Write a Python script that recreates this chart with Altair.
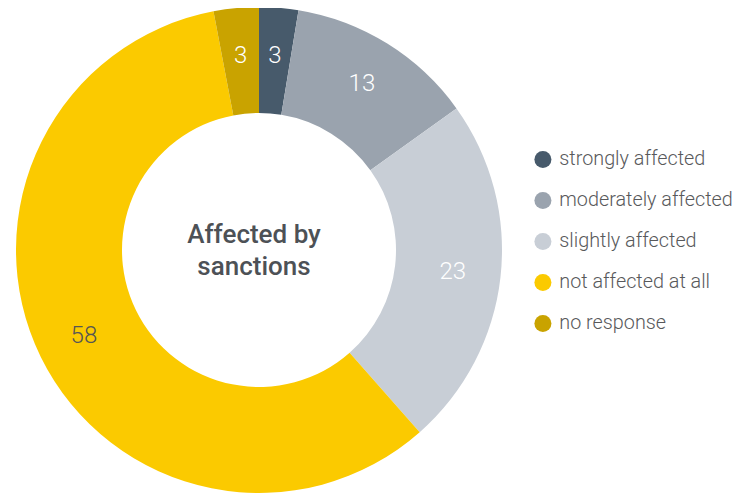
import altair as alt
import pandas as pd

categories = ["strongly affected", "moderately affected", "slightly affected",
              "not affected at all", "no response"]
shares = [2.6, 12.5, 23.4, 58.5, 3.0]      # slice sizes estimated from the angles
labels_txt = ["3", "13", "23", "58", "3"]   # printed (rounded) labels
colors = ["#475a6b", "#9aa3ae", "#c8ced6", "#fbca00", "#c9a300"]
label_colors = ["#ffffff", "#ffffff", "#ffffff", "#555555", "#ffffff"]
center_title = "Affected by\nsanctions"

df = pd.DataFrame({
    "category": categories,
    "share": shares,
    "label": labels_txt,
    "order": list(range(len(categories))),
    "label_color": label_colors,
})

CX, CY = 251, 242

base = alt.Chart(df).encode(
    theta=alt.Theta("share:Q", stack=True),
    order=alt.Order("order:Q"),
)

arc = base.mark_arc(outerRadius=243, innerRadius=137).encode(
    x=alt.value(CX), y=alt.value(CY),
    color=alt.Color(
        "category:N",
        scale=alt.Scale(domain=categories, range=colors),
        sort=categories,
        legend=alt.Legend(
            title=None, orient="none", legendX=525, legendY=141.5,
            symbolType="circle", symbolSize=290, symbolStrokeWidth=0,
            labelFontSize=19.8, labelFont="Roboto", labelFontWeight=300,
            labelColor="#58595b", labelOffset=6.5, rowPadding=20, padding=0,
            labelLimit=300,
        ),
    ),
)

labels = base.mark_text(radius=195, fontSize=24, font="Roboto", fontWeight=300,
                        baseline="middle").encode(
    x=alt.value(CX), y=alt.value(CY),
    text=alt.Text("label:N"),
    color=alt.Color("label_color:N", scale=None),
)

center = alt.Chart(pd.DataFrame({"t": [center_title]})).mark_text(
    fontSize=26, fontWeight=500, font="Roboto", color="#4d5156",
    lineBreak="\n", lineHeight=32, baseline="middle", align="center",
).encode(x=alt.value(CX - 5), y=alt.value(CY - 15), text="t:N")

chart = alt.layer(arc, labels, center).properties(
    width=727, height=485, autosize="none", padding=0
).configure_view(stroke=None)

chart.save("out.html", embed_options={"renderer": "svg", "actions": False})
